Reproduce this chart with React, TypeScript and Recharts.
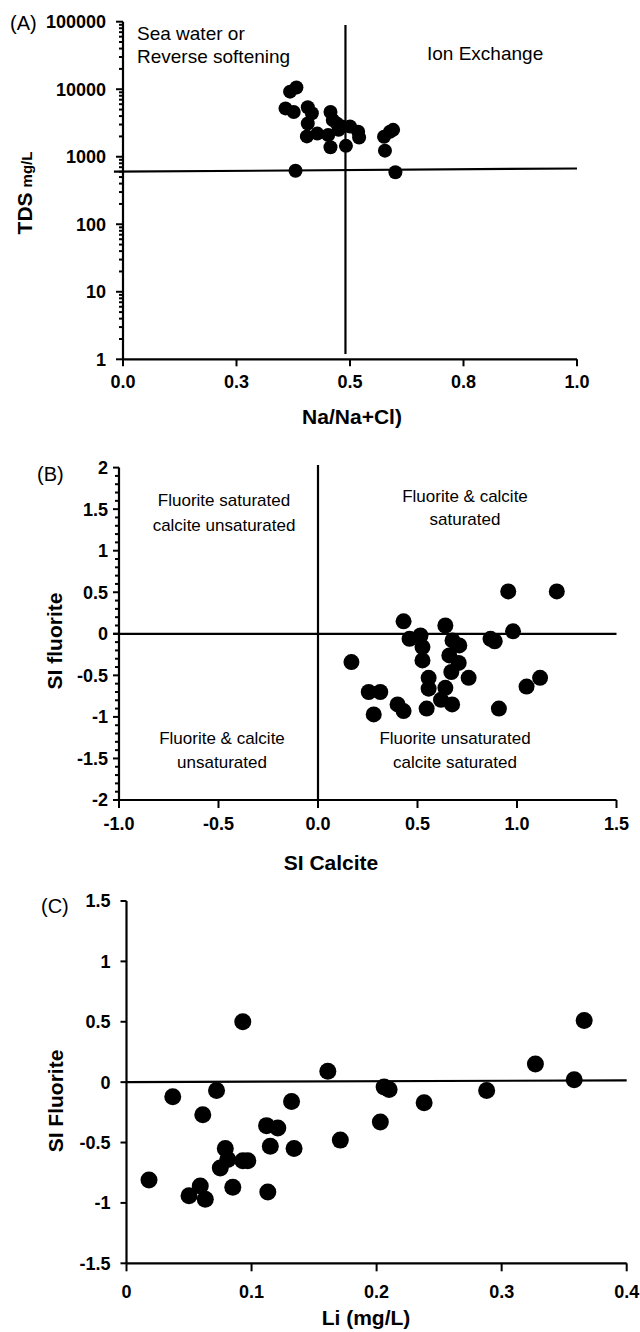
import {
  ScatterChart, Scatter, XAxis, YAxis, ReferenceLine,
} from 'recharts'

// ==================== Data ====================

// (A) Na/(Na+Cl) against TDS (mg/L, log axis)
const naRatio = [
  0.368, 0.382, 0.358, 0.376, 0.407, 0.416, 0.407, 0.405, 0.428, 0.457, 0.452, 0.457, 0.462,
  0.471, 0.475, 0.482, 0.491, 0.500, 0.518, 0.520, 0.575, 0.577, 0.588, 0.595, 0.380, 0.600,
]
const tdsMgL = [
  9200, 10600, 5200, 4600, 5400, 4400, 3100, 2000, 2200, 4600, 2100, 1380, 3500,
  3100, 2500, 2800, 1450, 2800, 2350, 1930, 1980, 1230, 2350, 2500, 620, 590,
]

// (B) SI calcite against SI fluorite
const siCalcite = [
  0.43, 0.64, 0.98, 0.46, 0.515, 0.525, 0.525, 0.676, 0.71, 0.66, 0.707, 0.67, 0.556, 0.556,
  0.64, 0.757, 0.618, 0.674, 0.546, 0.867, 0.888, 0.909, 1.048, 1.116, 0.168, 0.255, 0.313,
  0.28, 0.40, 0.43, 0.956, 1.2,
]
const siFluoriteB = [
  0.15, 0.10, 0.03, -0.06, -0.02, -0.16, -0.32, -0.08, -0.14, -0.26, -0.35, -0.46, -0.53, -0.66,
  -0.65, -0.53, -0.795, -0.85, -0.90, -0.06, -0.09, -0.90, -0.635, -0.53, -0.34, -0.70, -0.70,
  -0.97, -0.85, -0.93, 0.51, 0.51,
]

// (C) Li (mg/L) against SI fluorite
const lithium = [
  0.018, 0.037, 0.050, 0.059, 0.061, 0.063, 0.072, 0.075, 0.079, 0.081, 0.085, 0.093, 0.097,
  0.093, 0.112, 0.113, 0.115, 0.121, 0.132, 0.134, 0.161, 0.171, 0.203, 0.206, 0.210, 0.238,
  0.288, 0.327, 0.358, 0.366,
]
const siFluoriteC = [
  -0.81, -0.12, -0.94, -0.86, -0.27, -0.97, -0.07, -0.71, -0.55, -0.64, -0.87, -0.65, -0.65,
  0.50, -0.36, -0.91, -0.53, -0.38, -0.16, -0.55, 0.09, -0.48, -0.33, -0.04, -0.06, -0.17,
  -0.07, 0.15, 0.02, 0.51,
]

// ==================== Ticks ====================

const naTicks = [0, 0.25, 0.5, 0.75, 1]
const naTickLabels = ['0.0', '0.3', '0.5', '0.8', '1.0']
const tdsTicks = [1, 10, 100, 1000, 10000, 100000]
const tdsTickLabels = ['1', '10', '100', '1000', '10000', '100000']
const calciteTicks = [-1, -0.5, 0, 0.5, 1, 1.5]
const calciteTickLabels = ['-1.0', '-0.5', '0.0', '0.5', '1.0', '1.5']
const fluoriteBTicks = [-2, -1.5, -1, -0.5, 0, 0.5, 1, 1.5, 2]
const fluoriteBTickLabels = ['-2', '-1.5', '-1', '-0.5', '0', '0.5', '1', '1.5', '2']
const lithiumTicks = [0, 0.1, 0.2, 0.3, 0.4]
const lithiumTickLabels = ['0', '0.1', '0.2', '0.3', '0.4']
const fluoriteCTicks = [-1.5, -1, -0.5, 0, 0.5, 1, 1.5]
const fluoriteCTickLabels = ['-1.5', '-1', '-0.5', '0', '0.5', '1', '1.5']

// minor ticks: 2..9 per decade on the log axis, every 0.1 on SI fluorite (B)
const tdsAllTicks = [
  ...tdsTicks.slice(0, -1).flatMap(d => [1, 2, 3, 4, 5, 6, 7, 8, 9].map(m => m * d)),
  100000,
]
const fluoriteBAllTicks = Array.from({ length: 41 }, (_, i) => Math.round((-2 + i * 0.1) * 10) / 10)

// divider lines
const NA_SPLIT = 0.49
const NA_SPLIT_SPAN = [1.2, 89000]
const TDS_SPLIT = [600, 670] // at Na ratio -0.02 and 1.0, the line leans a touch
const CALCITE_SPLIT_TOP = 2.03
const LI_BASE = [0, 0.015]

// ==================== Layout ====================

const FONT = '"Liberation Sans", Arial, Helvetica, sans-serif'
const INK = '#000'
const W = 640
const AXIS_W = 100
const AXIS_H = 40

const PANEL_A = { top: 0, height: 440, plot: { left: 123, right: 577, top: 21.7, bottom: 359.3 } }
const PANEL_B = { top: 440, height: 440, plot: { left: 119, right: 616.5, top: 467.6, bottom: 800 } }
const PANEL_C = { top: 880, height: 452, plot: { left: 126.5, right: 626.7, top: 901, bottom: 1263.3 } }

type Panel = typeof PANEL_A

function margins(p: Panel) {
  return {
    top: p.plot.top - p.top,
    right: W - p.plot.right,
    bottom: p.top + p.height - p.plot.bottom - AXIS_H,
    left: p.plot.left - AXIS_W,
  }
}

const TICK_TEXT = { fontFamily: FONT, fontWeight: 700, fontSize: 18, fill: INK }
const NOTE_A = { fontFamily: FONT, fontSize: 19, fill: INK }
const NOTE_B = { fontFamily: FONT, fontSize: 17, fill: INK }
const TITLE_TEXT = { fontFamily: FONT, fontWeight: 700, fontSize: 21, fill: INK }

// ==================== Tick renderers ====================

function xTick(values: number[], labels: string[], len: number, baseline: number) {
  return (p: any) => {
    const i = values.indexOf(p.payload.value)
    return (
      <g>
        <line x1={p.x} x2={p.x} y1={p.y} y2={p.y + len} stroke={INK} strokeWidth={2} />
        {i >= 0 && (
          <text x={p.x} y={p.y + baseline} textAnchor="middle" {...TICK_TEXT}>{labels[i]}</text>
        )}
      </g>
    )
  }
}

function yTick(values: number[], labels: string[], majorLen: number, minorLen: number, gap: number) {
  return (p: any) => {
    const i = values.indexOf(p.payload.value)
    const len = i >= 0 ? majorLen : minorLen
    return (
      <g>
        <line x1={p.x} x2={p.x - len} y1={p.y} y2={p.y} stroke={INK} strokeWidth={2} />
        {i >= 0 && (
          <text x={p.x - gap} y={p.y + 6.4} textAnchor="end" {...TICK_TEXT}>{labels[i]}</text>
        )}
      </g>
    )
  }
}

const dot = (r: number) => (p: any) => <circle cx={p.cx} cy={p.cy} r={r} fill={INK} />

const axisLine = { stroke: INK, strokeWidth: 2.2 }
const dividerStyle = { stroke: INK, strokeWidth: 2.2 }

// ==================== Charts ====================

function ChartA() {
  const data = naRatio.map((x, i) => ({ x, y: tdsMgL[i] }))
  return (
    <div style={{ position: 'absolute', left: 0, top: PANEL_A.top }}>
      <ScatterChart width={W} height={PANEL_A.height} margin={margins(PANEL_A)}>
        <XAxis
          type="number" dataKey="x" domain={[0, 1]} ticks={naTicks} interval={0}
          height={AXIS_H} axisLine={axisLine} tickLine={false} tickSize={0} tickMargin={0}
          tick={xTick(naTicks, naTickLabels, 7, 29)}
        />
        <YAxis
          type="number" dataKey="y" scale="log" domain={[1, 100000]} allowDataOverflow
          ticks={tdsAllTicks} interval={0}
          width={AXIS_W} axisLine={axisLine} tickLine={false} tickSize={0} tickMargin={0}
          tick={yTick(tdsTicks, tdsTickLabels, 7, 4, 17)}
        />
        <ReferenceLine
          segment={[{ x: NA_SPLIT, y: NA_SPLIT_SPAN[0] }, { x: NA_SPLIT, y: NA_SPLIT_SPAN[1] }]}
          {...dividerStyle} ifOverflow="visible"
        />
        <ReferenceLine
          segment={[{ x: -0.02, y: TDS_SPLIT[0] }, { x: 1, y: TDS_SPLIT[1] }]}
          {...dividerStyle} ifOverflow="visible"
        />
        <Scatter data={data} shape={dot(7)} isAnimationActive={false} />
      </ScatterChart>
    </div>
  )
}

function ChartB() {
  const data = siCalcite.map((x, i) => ({ x, y: siFluoriteB[i] }))
  return (
    <div style={{ position: 'absolute', left: 0, top: PANEL_B.top }}>
      <ScatterChart width={W} height={PANEL_B.height} margin={margins(PANEL_B)}>
        <XAxis
          type="number" dataKey="x" domain={[-1, 1.5]} ticks={calciteTicks} interval={0}
          height={AXIS_H} axisLine={axisLine} tickLine={false} tickSize={0} tickMargin={0}
          tick={xTick(calciteTicks, calciteTickLabels, 8, 30)}
        />
        <YAxis
          type="number" dataKey="y" domain={[-2, 2]} ticks={fluoriteBAllTicks} interval={0}
          width={AXIS_W} axisLine={axisLine} tickLine={false} tickSize={0} tickMargin={0}
          tick={yTick(fluoriteBTicks, fluoriteBTickLabels, 6, 4, 11)}
        />
        <ReferenceLine
          segment={[{ x: 0, y: -2 }, { x: 0, y: CALCITE_SPLIT_TOP }]}
          {...dividerStyle} ifOverflow="visible"
        />
        <ReferenceLine
          segment={[{ x: -1.03, y: 0 }, { x: 1.5, y: 0 }]}
          {...dividerStyle} ifOverflow="visible"
        />
        <Scatter data={data} shape={dot(8)} isAnimationActive={false} />
      </ScatterChart>
    </div>
  )
}

function ChartC() {
  const data = lithium.map((x, i) => ({ x, y: siFluoriteC[i] }))
  return (
    <div style={{ position: 'absolute', left: 0, top: PANEL_C.top }}>
      <ScatterChart width={W} height={PANEL_C.height} margin={margins(PANEL_C)}>
        <XAxis
          type="number" dataKey="x" domain={[0, 0.4]} ticks={lithiumTicks} interval={0}
          height={AXIS_H} axisLine={axisLine} tickLine={false} tickSize={0} tickMargin={0}
          tick={xTick(lithiumTicks, lithiumTickLabels, 8, 35)}
        />
        <YAxis
          type="number" dataKey="y" domain={[-1.5, 1.5]} ticks={fluoriteCTicks} interval={0}
          width={AXIS_W} axisLine={axisLine} tickLine={false} tickSize={0} tickMargin={0}
          tick={yTick(fluoriteCTicks, fluoriteCTickLabels, 6, 6, 16)}
        />
        <ReferenceLine
          segment={[{ x: 0, y: LI_BASE[0] }, { x: 0.4, y: LI_BASE[1] }]}
          {...dividerStyle} ifOverflow="visible"
        />
        <Scatter data={data} shape={dot(8.5)} isAnimationActive={false} />
      </ScatterChart>
    </div>
  )
}

// ==================== Titles & annotations ====================

function Annotations() {
  return (
    <svg width={W} height={1332} style={{ position: 'absolute', left: 0, top: 0, pointerEvents: 'none' }}>
      {/* panel letters */}
      <text x={10} y={30} fontFamily={FONT} fontSize={20} fill={INK}>(A)</text>
      <text x={37} y={481} fontFamily={FONT} fontSize={20} fill={INK}>(B)</text>
      <text x={41} y={913} fontFamily={FONT} fontSize={20} fill={INK}>(C)</text>

      {/* (A) */}
      <text x={137} y={39.5} {...NOTE_A}>Sea water or</text>
      <text x={137} y={63} {...NOTE_A}>Reverse softening</text>
      <text x={427} y={60} {...NOTE_A}>Ion Exchange</text>
      <text x={352} y={423.5} textAnchor="middle" {...TITLE_TEXT}>Na/Na+Cl)</text>
      <text transform="translate(32, 193) rotate(-90)" textAnchor="middle" {...TITLE_TEXT}>
        TDS<tspan fontSize={15} dx={5}>mg/L</tspan>
      </text>

      {/* (B) */}
      <text x={224} y={506} textAnchor="middle" {...NOTE_B}>Fluorite saturated</text>
      <text x={224} y={531} textAnchor="middle" {...NOTE_B}>calcite unsaturated</text>
      <text x={465} y={502} textAnchor="middle" {...NOTE_B}>Fluorite &amp; calcite</text>
      <text x={465} y={525} textAnchor="middle" {...NOTE_B}>saturated</text>
      <text x={222} y={744} textAnchor="middle" {...NOTE_B}>Fluorite &amp; calcite</text>
      <text x={222} y={767.5} textAnchor="middle" {...NOTE_B}>unsaturated</text>
      <text x={455} y={744} textAnchor="middle" {...NOTE_B}>Fluorite unsaturated</text>
      <text x={455} y={767.5} textAnchor="middle" {...NOTE_B}>calcite saturated</text>
      <text x={331} y={870} textAnchor="middle" {...TITLE_TEXT}>SI Calcite</text>
      <text transform="translate(62, 641) rotate(-90)" textAnchor="middle" {...TITLE_TEXT}>SI fluorite</text>

      {/* (C) */}
      <text x={366} y={1325} textAnchor="middle" {...TITLE_TEXT}>Li (mg/L)</text>
      <text transform="translate(62.5, 1101) rotate(-90)" textAnchor="middle" {...TITLE_TEXT}>SI Fluorite</text>
    </svg>
  )
}

export default function App() {
  return (
    <div style={{ position: 'absolute', left: 0, top: 0, width: W, height: 1332, background: '#fff' }}>
      <ChartA />
      <ChartB />
      <ChartC />
      <Annotations />
    </div>
  )
}
